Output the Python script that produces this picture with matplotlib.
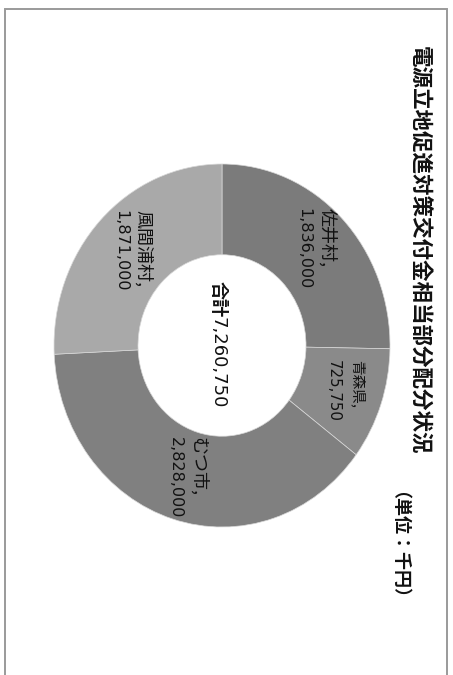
import matplotlib
matplotlib.use("Agg")
import numpy as np
import matplotlib.pyplot as plt
from matplotlib.patches import Rectangle

# Data (unit: thousand yen)
municipalities = ["佐井村", "青森県", "むつ市", "風間浦村"]
amounts = [1836000, 725750, 2828000, 1871000]
colors = ["#7b7b7b", "#8a8a8a", "#808080", "#a9a9a9"]
title = "電源立地促進対策交付金相当部分配分状況"
unit_note = "（単位：千円）"
total_prefix = "合計"

FONTS = ["DejaVu Sans", "Noto Sans CJK JP"]
CJK = ["Noto Sans CJK JP", "DejaVu Sans"]

W, H = 453, 675
fig = plt.figure(figsize=(W / 100, H / 100), dpi=100)
fig.patch.set_facecolor("white")


def fx(px):
    return px / W


def fy(py):
    return 1 - py / H


# Outer frame (open at the bottom edge)
frame = Rectangle((fx(5), fy(690)), fx(447) - fx(5), fy(9) - fy(690),
                  transform=fig.transFigure, fill=False,
                  edgecolor="#9a9a9a", linewidth=1.4, clip_on=False)
fig.patches.append(frame)

# Donut axes, slightly taller than wide
ax = fig.add_axes([fx(54), fy(527), fx(390) - fx(54), fy(164) - fy(527)])
wedges, _ = ax.pie(
    amounts, colors=colors, startangle=90, counterclock=False,
    wedgeprops=dict(width=0.5, edgecolor="#d8d8d8", linewidth=0.5),
)
ax.set_aspect("auto")
ax.set_xlim(-1, 1)
ax.set_ylim(-1, 1)
ax.axis("off")

fig.canvas.draw()
renderer = fig.canvas.get_renderer()

# Two-column vertical labels inside each ring segment
label_r = 0.76
for w, name, val in zip(wedges, municipalities, amounts):
    mid = np.deg2rad((w.theta1 + w.theta2) / 2)
    x, y = label_r * np.cos(mid), label_r * np.sin(mid)
    small = name == "青森県"
    num = ax.annotate(f"{val:,}", (x, y), xytext=(-6.5, 0),
                      textcoords="offset points", rotation=270,
                      ha="center", va="center", family=FONTS,
                      fontsize=10.8 if small else 11.5, color="#111111")
    ext = num.get_window_extent(renderer)
    half = ext.height / 2 * 72 / fig.dpi
    ax.annotate(f"{name},", (x, y), xytext=(10.5 if small else 10.0, half),
                textcoords="offset points", rotation=270,
                ha="center", va="top", family=CJK,
                fontsize=10.5 if small else 13, color="#111111")

# Total in the hole
total = sum(amounts)
ax.text(-0.024, 0.157, total_prefix, rotation=270, ha="center", va="bottom",
        fontsize=13, family=CJK, fontweight="bold", color="#111111")
ax.text(-0.024, 0.157, f"{total:,}", rotation=270, ha="center", va="top",
        fontsize=13, family=FONTS, color="#111111")

# Title and unit note, written vertically down the right side
fig.text(fx(418), fy(250), title, rotation=270, ha="center", va="center",
         fontsize=15.5, family=CJK, fontweight="bold", color="#111111")
fig.text(fx(390), fy(554), unit_note, rotation=270, ha="center", va="center",
         fontsize=13, family=CJK, fontweight="bold", color="#111111")

fig.savefig("out.png", dpi=100, facecolor="white")
